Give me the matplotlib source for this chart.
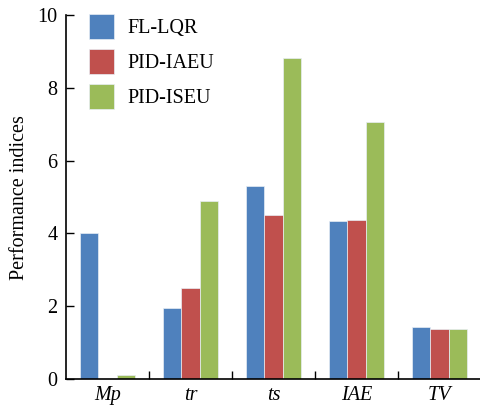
import matplotlib
matplotlib.use("Agg")
import matplotlib.pyplot as plt
import numpy as np

plt.rcParams["font.family"] = ["Liberation Serif", "DejaVu Serif"]

categories = ["Mp", "tr", "ts", "IAE", "TV"]
series_names = ["FL-LQR", "PID-IAEU", "PID-ISEU"]
fl_lqr = [4.0, 1.94, 5.3, 4.35, 1.42]
pid_iaeu = [0.0, 2.5, 4.5, 4.37, 1.37]
pid_iseu = [0.12, 4.9, 8.82, 7.07, 1.37]
colors = ["#4F81BD", "#C0504D", "#9BBB59"]

fig = plt.figure(figsize=(4.81, 4.08), dpi=100)
ax = fig.add_axes([0.137, 0.071, 0.863, 0.892])

x = np.arange(len(categories))
width = 0.223
for i, (vals, name, c) in enumerate(zip([fl_lqr, pid_iaeu, pid_iseu], series_names, colors)):
    ax.bar(x + (i - 1) * width, vals, width, color=c, label=name,
           edgecolor="#e8eef5", linewidth=0.5)

ax.set_xlim(-0.5, len(categories) - 0.5)
ax.set_ylim(0, 10)
ax.set_yticks([0, 2, 4, 6, 8, 10])
ax.tick_params(axis="y", direction="in", length=6, width=1, labelsize=14.5, pad=6)

# boundaries between groups carry the ticks, group centres carry the labels
ax.set_xticks(x[:-1] + 0.5)
ax.set_xticklabels([])
ax.tick_params(axis="x", which="major", direction="in", length=6, width=1)
ax.set_xticks(x, minor=True)
ax.set_xticklabels(categories, minor=True, fontstyle="italic", fontsize=14.5)
ax.tick_params(axis="x", which="minor", length=0, pad=5)

for side in ["top", "right"]:
    ax.spines[side].set_visible(False)
for side in ["left", "bottom"]:
    ax.spines[side].set_linewidth(1.2)

ax.set_ylabel("Performance indices", fontsize=14.5, labelpad=6)

ax.legend(loc="upper left", bbox_to_anchor=(0.037, 1.025), frameon=False,
          fontsize=14.5, handlelength=1.24, handleheight=1.53,
          labelspacing=0.5, handletextpad=0.65, borderaxespad=0)

fig.savefig("out.png", dpi=100)
